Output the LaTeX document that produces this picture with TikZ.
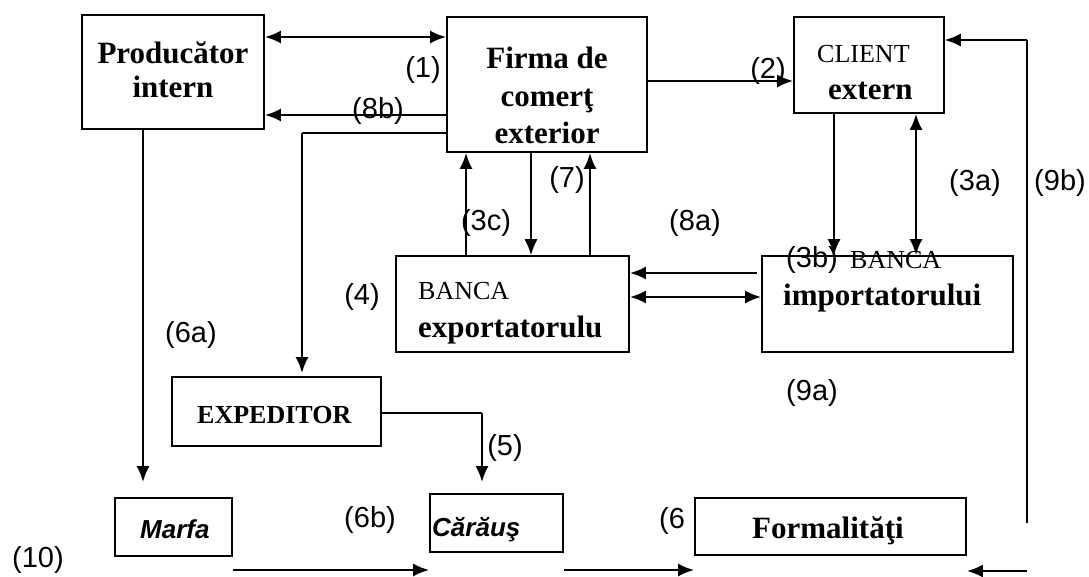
\documentclass[tikz,border=0pt]{standalone}
\usepackage{fontspec}
\setmainfont{Liberation Serif}
\newfontfamily\sansfam{Liberation Sans}
\usetikzlibrary{arrows.meta}
\newcommand\lblfont{\sansfam\fontsize{29}{34}\selectfont}
\newcommand\boxbold{\bfseries\fontsize{31}{37}\selectfont}
\newcommand\boxsmallbold{\bfseries\fontsize{26}{31}\selectfont}
\newcommand\boxreg{\fontsize{26}{31}\selectfont}
\newcommand\boxital{\sansfam\bfseries\itshape\fontsize{26}{31}\selectfont}
\begin{document}
\begin{tikzpicture}[x=1pt,y=-1pt,
  box/.style={draw, line width=1.6pt, inner sep=0pt},
  tb/.style={font=\boxbold, inner sep=0pt},
  tsb/.style={font=\boxsmallbold, inner sep=0pt},
  tr/.style={font=\boxreg, inner sep=0pt},
  ti/.style={font=\boxital, inner sep=0pt},
  lbl/.style={font=\lblfont, inner sep=0pt},
  tip/.style={Latex[length=16pt,width=13pt]},
  arr/.style={line width=2.5pt, -{Latex[length=16pt,width=13pt]}},
  dbl/.style={line width=2.5pt, {Latex[length=16pt,width=13pt]}-{Latex[length=16pt,width=13pt]}},
  thinline/.style={line width=1.4pt},
  thinarr/.style={line width=1.6pt, -{Latex[length=16pt,width=13pt]}}]
\useasboundingbox (0,0) rectangle (1089,576);

% boxes
\node[box, minimum width=182pt, minimum height=114pt] (prod) at (173,72) {};
\node[box, minimum width=200pt, minimum height=135pt] (firma) at (547,84.5) {};
\node[box, minimum width=150pt, minimum height=96pt] (client) at (869,65) {};
\node[box, minimum width=233pt, minimum height=96pt] (bexp) at (512.5,304) {};
\node[box, minimum width=251pt, minimum height=96pt] (bimp) at (887.5,304) {};
\node[box, minimum width=209pt, minimum height=69pt] (exped) at (276.5,411.5) {};
\node[box, minimum width=117pt, minimum height=58pt] (marfa) at (173.5,527) {};
\node[box, minimum width=133pt, minimum height=58pt] (carau) at (496.5,523) {};
\node[box, minimum width=271pt, minimum height=57pt] (formal) at (830.5,526.5) {};

% box texts
\node[tb, anchor=base] (tprod1) at (173,63) {Producător};
\node[tb, anchor=base] (tprod2) at (173,97) {intern};
\node[tb, anchor=base] (tfirma1) at (547,68) {Firma de};
\node[tb, anchor=base] (tfirma2) at (547,106) {comerţ};
\node[tb, anchor=base] (tfirma3) at (547,143) {exterior};
\node[tr, anchor=base west] (tclient1) at (817,62) {CLIENT};
\node[tb, anchor=base west] (tclient2) at (828,99) {extern};
\node[tr, anchor=base west] (tbexp1) at (418,299) {BANCA};
\node[tb, anchor=base west] (tbexp2) at (418,337) {exportatorulu};
\node[tr, anchor=base west] (tbimp1) at (850,268) {BANCA};
\node[tb, anchor=base west] (tbimp2) at (783,305) {importatorului};
\node[tsb, anchor=base west] (texped) at (197,423) {EXPEDITOR};
\node[ti, anchor=base west] (tmarfa) at (140,538) {Marfa};
\node[ti, anchor=base west] (tcarau) at (432,536) {Cărăuş};
\node[tb, anchor=base west] (tformal) at (752,538) {Formalităţi};

% rows and columns used by the connectors
\coordinate (r1) at (0,37);
\coordinate (r8b) at (0,115);
\coordinate (rex) at (0,133);
\coordinate (r2) at (0,81);
\coordinate (rbk1) at (0,273);
\coordinate (rbk2) at (0,297);
\coordinate (rexp) at (0,413);
\coordinate (rbot) at (0,570);
\coordinate (cprod) at (143,0);
\coordinate (c3c) at (466,0);
\coordinate (c7) at (531,0);
\coordinate (c7b) at (590,0);
\coordinate (c3b) at (834,0);
\coordinate (c3a) at (916,0);
\coordinate (kexp) at (302,133);
\coordinate (k5) at (482,413);
\coordinate (k9top) at (1027,40);
\coordinate (k9bot) at (1027,523);
\coordinate (kret) at (1027,571);

% connectors
\draw[dbl] (prod.east |- r1) -- (firma.west |- r1);
\draw[arr] (firma.west |- r8b) -- (prod.east |- r8b);
\draw[thinline] (firma.west |- rex) -- (kexp);
\draw[arr, shorten >=3pt] (kexp) -- (exped.north -| kexp);
\draw[arr] (firma.east |- r2) -- (client.west |- r2);
\draw[arr] (client.south -| c3b) -- (bimp.north -| c3b);
\draw[dbl] (client.south -| c3a) -- (bimp.north -| c3a);
\draw[thinline] (k9bot) -- (k9top);
\draw[thinarr] (k9top) -- (client.east |- k9top);
\draw[arr] (kret) -- (formal.east |- kret);
\draw[arr] (bexp.north -| c3c) -- (firma.south -| c3c);
\draw[thinarr] (firma.south -| c7) -- (bexp.north -| c7);
\draw[arr] (bexp.north -| c7b) -- (firma.south -| c7b);
\draw[arr, shorten <=4pt] (bimp.west |- rbk1) -- (bexp.east |- rbk1);
\draw[dbl] (bexp.east |- rbk2) -- (bimp.west |- rbk2);
\draw[arr, shorten >=15pt] (prod.south -| cprod) -- (marfa.north -| cprod);
\draw[thinline] (exped.east |- rexp) -- (k5);
\draw[arr, shorten >=11pt] (k5) -- (carau.north -| k5);
\draw[arr] (marfa.east |- rbot) -- (carau.west |- rbot);
\draw[arr] (carau.east |- rbot) -- (formal.west |- rbot);

% step labels
\node[lbl] (l1) at (423,70) {(1)};
\node[lbl] (l8b) at (378,111) {(8b)};
\node[lbl] (l2) at (768,71) {(2)};
\node[lbl] (l3a) at (975,183) {(3a)};
\node[lbl] (l9b) at (1060,183) {(9b)};
\node[lbl] (l7) at (567,180) {(7)};
\node[lbl] (l3c) at (486,223) {(3c)};
\node[lbl] (l8a) at (695,223) {(8a)};
\node[lbl] (l3b) at (812,260) {(3b)};
\node[lbl] (l4) at (362,297) {(4)};
\node[lbl] (l6a) at (191,335) {(6a)};
\node[lbl] (l9a) at (812,393) {(9a)};
\node[lbl] (l5) at (505,448) {(5)};
\node[lbl] (l6b) at (370,520) {(6b)};
\node[lbl] (l6) at (672,521) {(6};
\node[lbl] (l10) at (38,560) {(10)};
\end{tikzpicture}
\end{document}
